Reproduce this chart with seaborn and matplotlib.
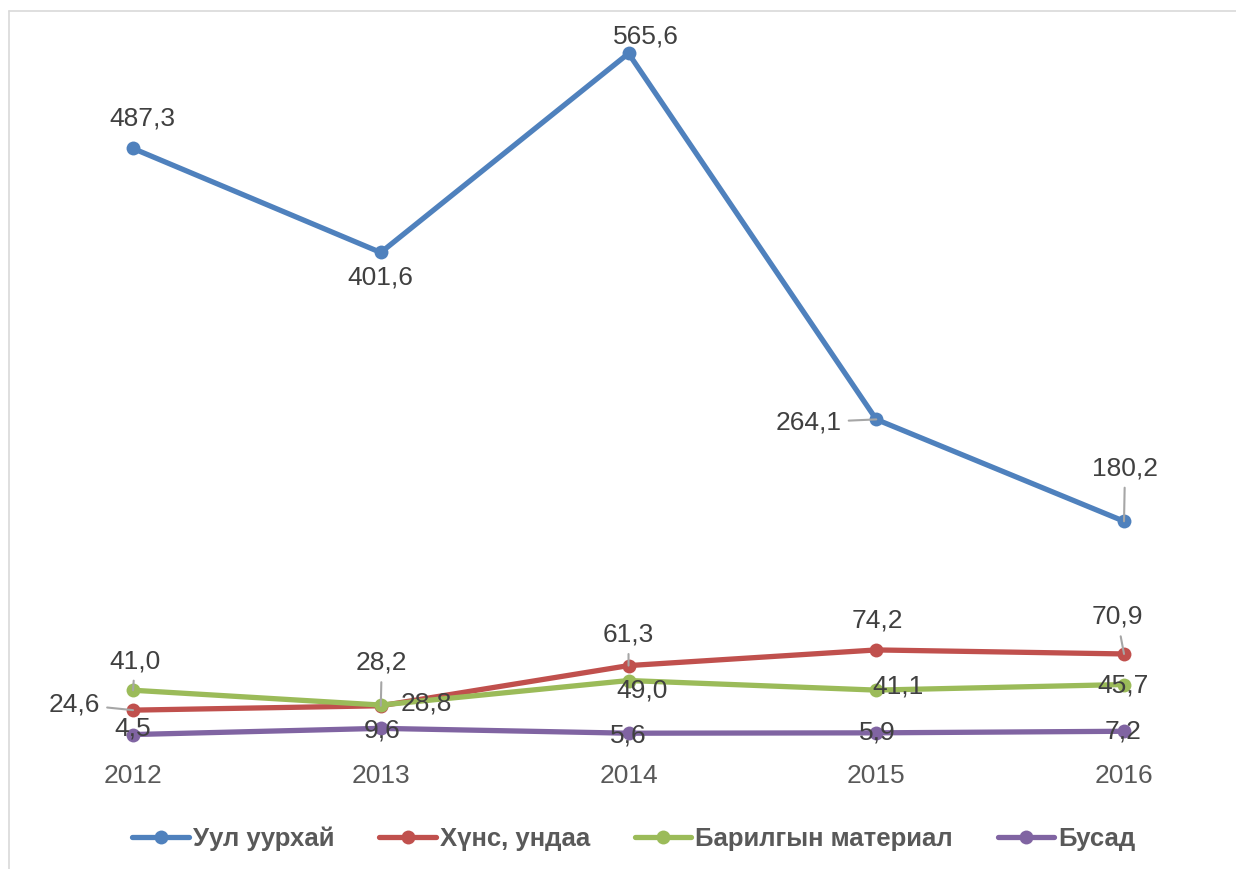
import seaborn as sns
import matplotlib.pyplot as plt
import pandas as pd
from matplotlib.lines import Line2D

# Data
years = [2012, 2013, 2014, 2015, 2016]
series_names = ["Уул уурхай", "Хүнс, ундаа", "Барилгын материал", "Бусад"]
mining = [487.3, 401.6, 565.6, 264.1, 180.2]
food = [24.6, 28.2, 61.3, 74.2, 70.9]
building = [41.0, 28.8, 49.0, 41.1, 45.7]
other = [4.5, 9.6, 5.6, 5.9, 7.2]
colors = ["#4F81BD", "#C0504D", "#9BBB59", "#8064A2"]

values = [mining, food, building, other]
df = pd.DataFrame({
    "year": years * 4,
    "value": mining + food + building + other,
    "series": [n for n in series_names for _ in years],
})

# label offsets in pixels (dx, dy), and whether a leader line is drawn
label_pos = {
    "Уул уурхай": [(9, 30, 0), (0, -25, 0), (17, 17, 0), (-68, -3, 1), (1, 53, 1)],
    "Хүнс, ундаа": [(-59, 6, 1), (1, 43, 1), (0, 31, 1), (1, 29, 0), (-7, 37, 1)],
    "Барилгын материал": [(2, 29, 1), (46, 2, 0), (14, -10, 0), (22, 4, 0), (-1, -1, 0)],
    "Бусад": [(0, 6, 0), (1, -2, 0), (0, -2, 0), (1, 0, 0), (-1, 0, 0)],
}

sns.set_style("white")
plt.rcParams["font.family"] = ["Liberation Sans", "DejaVu Sans"]

fig = plt.figure(figsize=(12.36, 8.69), dpi=100)
ax = fig.add_axes([0, 1 - 757 / 869, 1, 757 / 869])

sns.lineplot(
    data=df, x="year", y="value", hue="series",
    hue_order=series_names, palette=colors,
    marker="o", markersize=10, markeredgewidth=0,
    linewidth=3.8, legend=False, ax=ax,
)

ax.set_xlim(2012 - 0.537, 2012 + 4.452)
ax.set_ylim(-14.0, 609.6)
for s in ax.spines.values():
    s.set_visible(False)
ax.set_yticks([])
ax.set_xticks(years)
ax.set_xticklabels([str(y) for y in years], fontsize=19, color="#595959")
ax.tick_params(axis="x", length=0, pad=5)
ax.set_xlabel("")
ax.set_ylabel("")

for name, vals in zip(series_names, values):
    for yr, v, (dx, dy, lead) in zip(years, vals, label_pos[name]):
        txt = f"{v:.1f}".replace(".", ",")
        kw = {}
        if lead:
            kw["arrowprops"] = dict(arrowstyle="-", color="#A6A6A6", lw=1.5,
                                    shrinkA=3, shrinkB=0)
        ax.annotate(txt, xy=(yr, v), xytext=(dx, dy), textcoords="offset pixels",
                    ha="center", va="center", fontsize=19, color="#404040",
                    zorder=5, **kw)

# chart frame
fig.add_artist(Line2D([9 / 1236, 9 / 1236], [0, 1 - 11 / 869], color="#D9D9D9", lw=1.2))
fig.add_artist(Line2D([9 / 1236, 1], [1 - 11 / 869, 1 - 11 / 869], color="#D9D9D9", lw=1.2))

handles = [Line2D([], [], color=c, lw=3.8, marker="o", markersize=10,
                  markeredgewidth=0) for c in colors]
leg = fig.legend(handles, series_names, loc="center",
                 bbox_to_anchor=(634 / 1236, 1 - 839 / 869), ncol=4, frameon=False,
                 prop={"size": 18.5, "weight": "bold"}, handlelength=2.2,
                 handletextpad=0.15, columnspacing=1.75)
for t in leg.get_texts():
    t.set_color("#595959")

fig.savefig("out.png", dpi=100)
